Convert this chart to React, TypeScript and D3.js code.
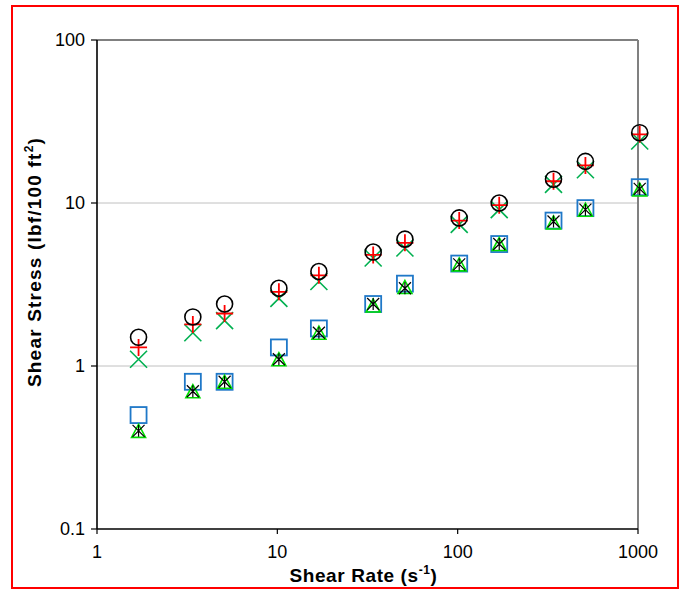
import React from "react";
import * as d3 from "d3";

// Shear rate (s^-1) for each viscometer speed
const shearRate = [1.7, 3.4, 5.1, 10.2, 17, 34, 51, 102, 170, 340, 511, 1022];

// Shear stress (lbf/100 ft^2) for each sample
const circleSeries = [1.5, 2.0, 2.4, 3.0, 3.8, 5.0, 6.0, 8.1, 10, 14, 18, 27];
const plusSeries = [1.3, 1.8, 2.1, 2.85, 3.6, 4.8, 5.7, 7.8, 9.7, 13.6, 17, 26.4];
const crossSeries = [1.1, 1.6, 1.9, 2.6, 3.3, 4.6, 5.3, 7.4, 9.1, 13, 16, 24];
const squareSeries = [0.5, 0.8, 0.8, 1.3, 1.7, 2.4, 3.2, 4.25, 5.6, 7.8, 9.3, 12.5];
const triangleSeries = [0.4, 0.7, 0.8, 1.1, 1.6, 2.35, 3.05, 4.2, 5.6, 7.6, 9.1, 12.1];
const starSeries = [0.4, 0.7, 0.8, 1.1, 1.6, 2.4, 3.0, 4.2, 5.6, 7.7, 9.1, 12.2];

const xTicks = [1, 10, 100, 1000];
const yTicks = [0.1, 1, 10, 100];
const yGrid = [1, 10];

const W = 685;
const H = 599;
const FONT = "'Liberation Sans', Arial, sans-serif";

const x = d3.scaleLog().domain([1, 1000]).range([97, 638]);
const y = d3.scaleLog().domain([0.1, 100]).range([529, 40]);

type MarkerKind = "circle" | "plus" | "cross" | "square" | "triangle" | "star";

function Marker({ kind, cx, cy }: { kind: MarkerKind; cx: number; cy: number }) {
  const r = 8.5;
  switch (kind) {
    case "circle":
      return <circle cx={cx} cy={cy} r={r - 0.5} fill="none" stroke="#000" strokeWidth={1.6} />;
    case "plus":
      return (
        <path
          d={`M${cx - r},${cy}H${cx + r}M${cx},${cy - r}V${cy + r}`}
          stroke="#ff0000"
          strokeWidth={1.8}
          fill="none"
        />
      );
    case "cross":
      return (
        <path
          d={`M${cx - r},${cy - r}L${cx + r},${cy + r}M${cx - r},${cy + r}L${cx + r},${cy - r}`}
          stroke="#00b050"
          strokeWidth={1.6}
          fill="none"
        />
      );
    case "square":
      return (
        <rect
          x={cx - r + 0.5}
          y={cy - r + 0.5}
          width={2 * r - 1}
          height={2 * r - 1}
          fill="none"
          stroke="#1f78c8"
          strokeWidth={1.8}
        />
      );
    case "triangle":
      return (
        <path
          d={`M${cx},${cy - 6.5}L${cx + 7},${cy + 6.5}L${cx - 7},${cy + 6.5}Z`}
          fill="none"
          stroke="#00e000"
          strokeWidth={1.6}
        />
      );
    case "star":
      return (
        <path
          d={`M${cx - 6},${cy - 6}L${cx + 6},${cy + 6}M${cx - 6},${cy + 6}L${cx + 6},${cy - 6}M${cx},${cy - 6}V${cy + 6}`}
          stroke="#000"
          strokeWidth={1.2}
          fill="none"
        />
      );
  }
}

const seriesList: { kind: MarkerKind; values: number[] }[] = [
  { kind: "square", values: squareSeries },
  { kind: "triangle", values: triangleSeries },
  { kind: "star", values: starSeries },
  { kind: "cross", values: crossSeries },
  { kind: "plus", values: plusSeries },
  { kind: "circle", values: circleSeries },
];

export default function App() {
  const [x0, x1] = x.range();
  const [y0, y1] = y.range();
  return (
    <svg
      width={W}
      height={H}
      style={{ position: "absolute", left: 0, top: 0, background: "#fff" }}
      fontFamily={FONT}
    >
      <rect x={0} y={0} width={W} height={H} fill="#fff" />
      {/* outer frame */}
      <rect x={12} y={6} width={666} height={582} fill="none" stroke="#ff0000" strokeWidth={2} />

      {/* horizontal gridlines */}
      {yGrid.map((v) => (
        <line key={v} x1={x0} x2={x1} y1={y(v)} y2={y(v)} stroke="#c0c0c0" strokeWidth={1} />
      ))}

      {/* plot area frame: top and right in grey */}
      <line x1={x0} x2={x1} y1={y1} y2={y1} stroke="#808080" strokeWidth={2} />
      <line x1={x1} x2={x1} y1={y1} y2={y0} stroke="#808080" strokeWidth={2} />

      {/* axes */}
      <line x1={x0} x2={x1} y1={y0} y2={y0} stroke="#000" strokeWidth={1.6} />
      <line x1={x0} x2={x0} y1={y1} y2={y0} stroke="#000" strokeWidth={1.6} />

      {yTicks.map((v) => (
        <g key={v}>
          <line x1={x0 - 6} x2={x0} y1={y(v)} y2={y(v)} stroke="#000" strokeWidth={1.2} />
          <text x={x0 - 12} y={y(v)} dy="0.35em" textAnchor="end" fontSize={18} fill="#000">
            {v}
          </text>
        </g>
      ))}
      {xTicks.map((v) => (
        <g key={v}>
          <line x1={x(v)} x2={x(v)} y1={y0} y2={y0 + 5} stroke="#000" strokeWidth={1.2} />
          <text x={x(v)} y={y0 + 29} textAnchor="middle" fontSize={18} fill="#000">
            {v}
          </text>
        </g>
      ))}

      {/* axis titles */}
      <text
        x={(x0 + x1) / 2 - 4}
        y={582}
        textAnchor="middle"
        fontSize={19}
        fontWeight="bold"
        letterSpacing={0.6}
        fill="#000"
      >
        Shear Rate (s
        <tspan fontSize={12} dy={-8}>-1</tspan>
        <tspan dy={8}>)</tspan>
      </text>
      <text
        transform={`translate(41,${262}) rotate(-90)`}
        textAnchor="middle"
        fontSize={19}
        fontWeight="bold"
        letterSpacing={1.2}
        fill="#000"
      >
        Shear Stress (lbf/100 ft
        <tspan fontSize={12} dy={-8}>2</tspan>
        <tspan dy={8}>)</tspan>
      </text>

      {/* data markers */}
      {seriesList.map((s) => (
        <g key={s.kind}>
          {s.values.map((v, i) => (
            <Marker key={i} kind={s.kind} cx={x(shearRate[i])} cy={y(v)} />
          ))}
        </g>
      ))}
    </svg>
  );
}
